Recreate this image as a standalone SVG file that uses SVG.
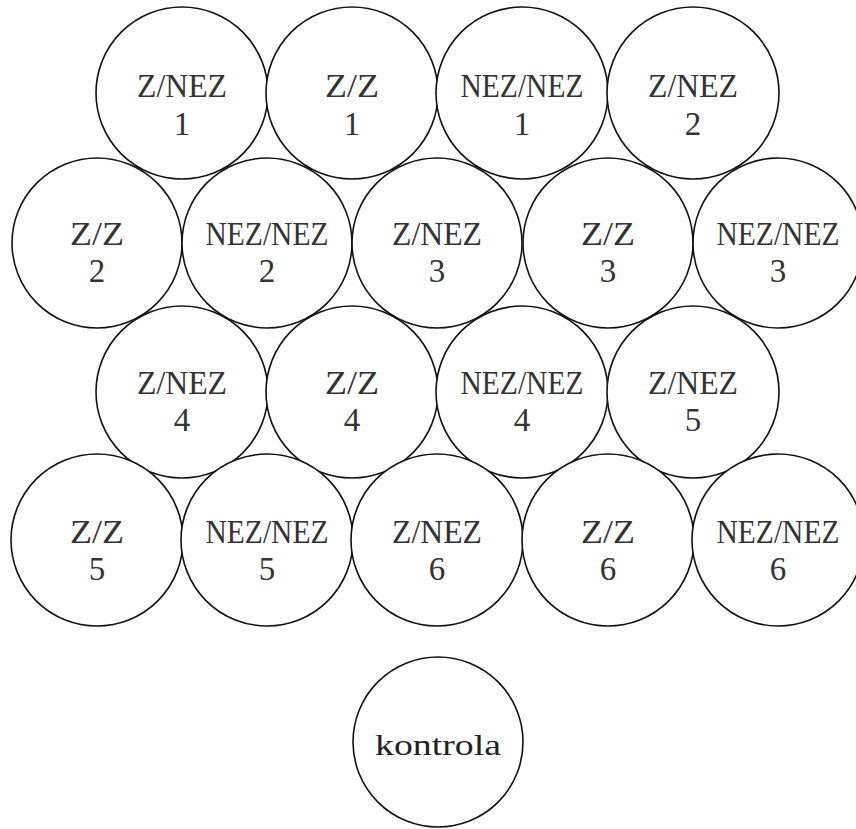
<svg xmlns="http://www.w3.org/2000/svg" width="856" height="829" viewBox="0 0 856 829">
<style>
.c{fill:#fff;stroke:#111;stroke-width:1.6}
text{font-family:"Liberation Serif","Times New Roman",serif;fill:#333;text-anchor:middle}
.t{font-size:33px}
.k{font-size:29px;fill:#222}
</style>
<rect width="856" height="829" fill="#fff"/>
<g id="connectors"/>
<g id="n1"><circle class="c" cx="182" cy="93" r="86"/><text class="t" x="182" y="97" textLength="90" lengthAdjust="spacingAndGlyphs">Z/NEZ</text><text class="t" x="182" y="135">1</text></g>
<g id="n2"><circle class="c" cx="352" cy="93" r="86"/><text class="t" x="352" y="97" textLength="54" lengthAdjust="spacingAndGlyphs">Z/Z</text><text class="t" x="352" y="135">1</text></g>
<g id="n3"><circle class="c" cx="522" cy="93" r="86"/><text class="t" x="522" y="97" textLength="123" lengthAdjust="spacingAndGlyphs">NEZ/NEZ</text><text class="t" x="522" y="135">1</text></g>
<g id="n4"><circle class="c" cx="693" cy="93" r="86"/><text class="t" x="693" y="97" textLength="90" lengthAdjust="spacingAndGlyphs">Z/NEZ</text><text class="t" x="693" y="135">2</text></g>
<g id="n5"><circle class="c" cx="97" cy="243" r="85"/><text class="t" x="97" y="245" textLength="54" lengthAdjust="spacingAndGlyphs">Z/Z</text><text class="t" x="97" y="282">2</text></g>
<g id="n6"><circle class="c" cx="267" cy="243" r="85"/><text class="t" x="267" y="245" textLength="123" lengthAdjust="spacingAndGlyphs">NEZ/NEZ</text><text class="t" x="267" y="282">2</text></g>
<g id="n7"><circle class="c" cx="437" cy="243" r="85"/><text class="t" x="437" y="245" textLength="90" lengthAdjust="spacingAndGlyphs">Z/NEZ</text><text class="t" x="437" y="282">3</text></g>
<g id="n8"><circle class="c" cx="608" cy="243" r="85"/><text class="t" x="608" y="245" textLength="54" lengthAdjust="spacingAndGlyphs">Z/Z</text><text class="t" x="608" y="282">3</text></g>
<g id="n9"><circle class="c" cx="778" cy="243" r="85"/><text class="t" x="778" y="245" textLength="123" lengthAdjust="spacingAndGlyphs">NEZ/NEZ</text><text class="t" x="778" y="282">3</text></g>
<g id="n10"><circle class="c" cx="182" cy="392" r="86"/><text class="t" x="182" y="394" textLength="90" lengthAdjust="spacingAndGlyphs">Z/NEZ</text><text class="t" x="182" y="431">4</text></g>
<g id="n11"><circle class="c" cx="352" cy="392" r="86"/><text class="t" x="352" y="394" textLength="54" lengthAdjust="spacingAndGlyphs">Z/Z</text><text class="t" x="352" y="431">4</text></g>
<g id="n12"><circle class="c" cx="522" cy="392" r="86"/><text class="t" x="522" y="394" textLength="123" lengthAdjust="spacingAndGlyphs">NEZ/NEZ</text><text class="t" x="522" y="431">4</text></g>
<g id="n13"><circle class="c" cx="693" cy="392" r="86"/><text class="t" x="693" y="394" textLength="90" lengthAdjust="spacingAndGlyphs">Z/NEZ</text><text class="t" x="693" y="431">5</text></g>
<g id="n14"><circle class="c" cx="97" cy="540" r="86"/><text class="t" x="97" y="543" textLength="54" lengthAdjust="spacingAndGlyphs">Z/Z</text><text class="t" x="97" y="580">5</text></g>
<g id="n15"><circle class="c" cx="267" cy="540" r="86"/><text class="t" x="267" y="543" textLength="123" lengthAdjust="spacingAndGlyphs">NEZ/NEZ</text><text class="t" x="267" y="580">5</text></g>
<g id="n16"><circle class="c" cx="437" cy="540" r="86"/><text class="t" x="437" y="543" textLength="90" lengthAdjust="spacingAndGlyphs">Z/NEZ</text><text class="t" x="437" y="580">6</text></g>
<g id="n17"><circle class="c" cx="608" cy="540" r="86"/><text class="t" x="608" y="543" textLength="54" lengthAdjust="spacingAndGlyphs">Z/Z</text><text class="t" x="608" y="580">6</text></g>
<g id="n18"><circle class="c" cx="778" cy="540" r="86"/><text class="t" x="778" y="543" textLength="123" lengthAdjust="spacingAndGlyphs">NEZ/NEZ</text><text class="t" x="778" y="580">6</text></g>
<g id="kontrola"><circle class="c" cx="438" cy="742" r="85"/><text class="k" x="438" y="755" textLength="126" lengthAdjust="spacingAndGlyphs">kontrola</text></g>
</svg>
